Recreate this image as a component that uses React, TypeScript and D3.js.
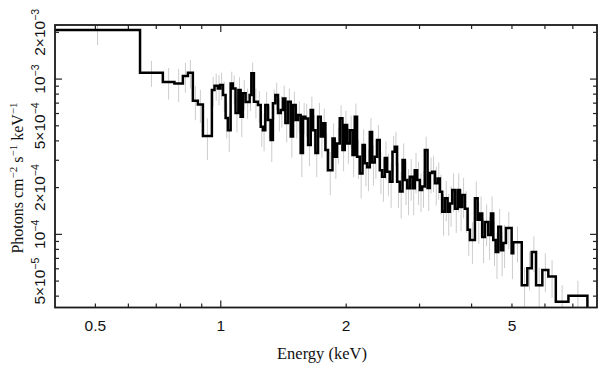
import React, { useEffect, useRef } from 'react';
import * as d3 from 'd3';

// bin edges in keV (one more than the number of bins)
const binEdges = [
  0.4, 0.64, 0.726, 0.774, 0.811, 0.834, 0.857, 0.881, 0.906,
  0.952, 0.966, 0.984, 0.997, 1.012, 1.027, 1.040, 1.056, 1.069, 1.085, 1.102, 1.116, 1.130,
  1.147, 1.173, 1.184, 1.201, 1.228, 1.247, 1.262, 1.279, 1.298, 1.317,
  1.334, 1.352, 1.372, 1.393, 1.410, 1.429, 1.450, 1.472, 1.491, 1.513,
  1.532, 1.555, 1.575, 1.596, 1.620, 1.644, 1.665, 1.687, 1.712, 1.738,
  1.760, 1.783, 1.809,
  1.854, 1.877, 1.901, 1.930, 1.959, 1.984, 2.010, 2.040, 2.071, 2.097,
  2.124, 2.156, 2.189, 2.217, 2.245, 2.279, 2.308, 2.342, 2.372, 2.408,
  2.439, 2.476, 2.507, 2.545, 2.583, 2.616, 2.650, 2.690, 2.731, 2.766,
  2.802, 2.843, 2.886, 2.923, 2.961,
  3.005, 3.043, 3.089, 3.136, 3.176, 3.217, 3.266, 3.315, 3.357, 3.400,
  3.451, 3.503, 3.548, 3.594, 3.648, 3.703, 3.750, 3.798, 3.855, 3.913,
  3.963, 4.074, 4.136, 4.189, 4.242, 4.306, 4.386, 4.452, 4.509, 4.570,
  4.636, 4.706, 4.765, 4.837, 4.991, 5.036, 5.278, 5.443, 5.578, 5.712,
  5.914, 6.113, 6.371, 6.831, 7.587,
];

// flux per bin, in units of 1e-3 photons cm^-2 s^-1 keV^-1
const fluxE3 = [
  2.07, 1.10, 0.957, 0.938, 1.045, 1.098, 0.725, 0.687, 0.430,
  0.849, 0.905, 0.871, 0.915, 0.789, 0.561, 0.469, 0.938, 0.871, 0.604, 0.849, 0.571, 0.81,
  0.711, 0.789, 1.09, 0.714, 0.68, 0.494, 0.469, 0.68, 0.545, 0.405,
  0.70, 0.789, 0.604, 0.632, 0.75, 0.521, 0.714, 0.427, 0.68, 0.545,
  0.586, 0.334, 0.571, 0.558, 0.376, 0.632, 0.469, 0.334, 0.571, 0.427,
  0.519, 0.349, 0.259,
  0.415, 0.316, 0.385, 0.559, 0.349, 0.506, 0.385, 0.469, 0.324, 0.571,
  0.316, 0.247, 0.376, 0.287, 0.271, 0.457, 0.29, 0.316, 0.405, 0.259,
  0.235, 0.31, 0.253, 0.218, 0.34, 0.366, 0.218, 0.189, 0.301, 0.224,
  0.198, 0.235, 0.198, 0.259, 0.224,
  0.193, 0.203, 0.349, 0.199, 0.248, 0.253, 0.213, 0.229, 0.188, 0.140,
  0.171, 0.140, 0.158, 0.193, 0.146, 0.193, 0.150, 0.179, 0.146, 0.107,
  0.092, 0.171, 0.124, 0.136, 0.096, 0.120, 0.099, 0.136, 0.092, 0.077,
  0.112, 0.079, 0.088, 0.110, 0.0757, 0.089, 0.0471, 0.0604, 0.077, 0.0471,
  0.0589, 0.0535, 0.0368, 0.0402,
];

// relative 1-sigma error per bin
const errFrac = [
  0.2, 0.19, 0.23, 0.24, 0.22, 0.21, 0.25, 0.24, 0.3,
  0.22, 0.2, 0.22, 0.2, 0.22, 0.26, 0.28, 0.19, 0.21, 0.25, 0.21, 0.26, 0.22,
  0.22, 0.21, 0.17, 0.22, 0.23, 0.26, 0.27, 0.22, 0.24, 0.28,
  0.22, 0.2, 0.24, 0.23, 0.21, 0.25, 0.22, 0.27, 0.22, 0.24,
  0.23, 0.3, 0.23, 0.24, 0.27, 0.22, 0.25, 0.3, 0.23, 0.27,
  0.24, 0.28, 0.31,
  0.25, 0.28, 0.26, 0.21, 0.27, 0.23, 0.26, 0.24, 0.28, 0.22,
  0.28, 0.31, 0.26, 0.29, 0.3, 0.23, 0.29, 0.28, 0.25, 0.3,
  0.31, 0.28, 0.3, 0.32, 0.26, 0.25, 0.32, 0.33, 0.28, 0.31,
  0.33, 0.3, 0.33, 0.29, 0.31,
  0.28, 0.27, 0.22, 0.29, 0.26, 0.26, 0.28, 0.27, 0.29, 0.3,
  0.29, 0.3, 0.29, 0.28, 0.3, 0.28, 0.3, 0.29, 0.3, 0.32,
  0.3, 0.28, 0.3, 0.29, 0.32, 0.3, 0.31, 0.29, 0.32, 0.33,
  0.3, 0.32, 0.31, 0.27, 0.32, 0.26, 0.3, 0.28, 0.26, 0.3,
  0.28, 0.27, 0.28, 0.25,
];

const xTickLabels = [0.5, 1, 2, 5];
const xMinorTicks = [0.5, 0.6, 0.7, 0.8, 0.9, 2, 3, 4, 5, 6, 7];
const xMajorTicks = [1];
const yTickMantissas = [2, 1, 5, 2, 1, 5];
const yTickExponents = [-3, -3, -4, -4, -4, -5];
const yMajorTicks = [1e-4, 1e-3];
const yMinorTicks = [4e-5, 5e-5, 6e-5, 7e-5, 8e-5, 9e-5,
  2e-4, 3e-4, 4e-4, 5e-4, 6e-4, 7e-4, 8e-4, 9e-4, 2e-3];

const W = 608;
const H = 370;
const frame = { left: 55, right: 597, top: 25, bottom: 307.5 };
const sans = '"Liberation Sans", Arial, Helvetica, sans-serif';
const serif = '"Liberation Serif", "Times New Roman", Times, serif';

export default function App() {
  const ref = useRef<SVGSVGElement>(null);

  useEffect(() => {
    const svg = d3.select(ref.current);
    svg.selectAll('*').remove();

    const x = d3.scaleLog().domain([0.4, 8]).range([frame.left, frame.right]);
    const y = d3.scaleLog().domain([3.38e-5, 2.23e-3]).range([frame.bottom, frame.top]);

    svg.append('clipPath').attr('id', 'plotClip')
      .append('rect')
      .attr('x', frame.left).attr('y', frame.top)
      .attr('width', frame.right - frame.left)
      .attr('height', frame.bottom - frame.top);

    const bins = fluxE3.map((f, i) => ({
      lo: binEdges[i],
      hi: binEdges[i + 1],
      v: f * 1e-3,
      err: (errFrac[i] ?? 0.25) * f * 1e-3,
    }));

    const plot = svg.append('g').attr('clip-path', 'url(#plotClip)');

    // error bars
    plot.selectAll('line.err')
      .data(bins)
      .enter()
      .append('line')
      .attr('class', 'err')
      .attr('x1', (d) => x(Math.sqrt(d.lo * d.hi)))
      .attr('x2', (d) => x(Math.sqrt(d.lo * d.hi)))
      .attr('y1', (d) => y(d.v + d.err))
      .attr('y2', (d) => y(Math.max(d.v - d.err, 1e-6)))
      .style('stroke', '#cccccc')
      .style('stroke-width', 1);

    // histogram steps
    const pts: [number, number][] = bins.map((d) => [d.lo, d.v]);
    pts.push([binEdges[binEdges.length - 1], y.domain()[0] * 0.5]);
    const line = d3.line<[number, number]>()
      .x((d) => x(d[0]))
      .y((d) => y(d[1]))
      .curve(d3.curveStepAfter);
    plot.append('path')
      .attr('d', line(pts))
      .style('fill', 'none')
      .style('stroke', '#000')
      .style('stroke-width', 2.5)
      .style('stroke-linejoin', 'miter');

    // frame
    svg.append('rect')
      .attr('x', frame.left).attr('y', frame.top)
      .attr('width', frame.right - frame.left)
      .attr('height', frame.bottom - frame.top)
      .style('fill', 'none')
      .style('stroke', '#1a1a1a')
      .style('stroke-width', 1.8);

    // ticks on all four sides, pointing inwards
    const ticks = svg.append('g').style('stroke', '#222').style('stroke-width', 1.2);
    const xTicks = [
      ...xMinorTicks.map((v) => ({ v, len: 4 })),
      ...xMajorTicks.map((v) => ({ v, len: 7 })),
    ];
    xTicks.forEach((t) => {
      const px = x(t.v);
      ticks.append('line').attr('x1', px).attr('x2', px)
        .attr('y1', frame.bottom).attr('y2', frame.bottom - t.len);
      ticks.append('line').attr('x1', px).attr('x2', px)
        .attr('y1', frame.top).attr('y2', frame.top + t.len);
    });
    const yTicks = [
      ...yMinorTicks.map((v) => ({ v, len: 4 })),
      ...yMajorTicks.map((v) => ({ v, len: 7 })),
    ];
    yTicks.forEach((t) => {
      const py = y(t.v);
      ticks.append('line').attr('y1', py).attr('y2', py)
        .attr('x1', frame.left).attr('x2', frame.left + t.len);
      ticks.append('line').attr('y1', py).attr('y2', py)
        .attr('x1', frame.right).attr('x2', frame.right - t.len);
    });

    // x tick labels
    svg.append('g')
      .selectAll('text')
      .data(xTickLabels)
      .enter()
      .append('text')
      .attr('x', (d) => x(d))
      .attr('y', 331)
      .attr('text-anchor', 'middle')
      .style('font-family', sans)
      .style('font-size', '15.5px')
      .style('fill', '#111')
      .text((d) => String(d));

    // y tick labels, rotated
    yTickMantissas.forEach((m, i) => {
      const e = yTickExponents[i];
      const val = m * Math.pow(10, e);
      const t = svg.append('text')
        .attr('transform', `translate(45,${y(val)}) rotate(-90)`)
        .attr('text-anchor', 'middle')
        .style('font-family', sans)
        .style('font-size', '15.5px')
        .style('fill', '#111');
      t.append('tspan').text(m === 1 ? '10' : `${m}\u00d710`);
      t.append('tspan').attr('dy', -6).style('font-size', '10.5px').text(`\u2212${-e}`);
    });

    // axis titles
    svg.append('text')
      .attr('x', (frame.left + frame.right) / 2 - 4)
      .attr('y', 359)
      .attr('text-anchor', 'middle')
      .style('font-family', serif)
      .style('font-size', '16.5px')
      .style('fill', '#111')
      .text('Energy (keV)');

    const yt = svg.append('text')
      .attr('transform', `translate(23,178) rotate(-90)`)
      .attr('text-anchor', 'middle')
      .style('font-family', serif)
      .style('font-size', '16px')
      .style('fill', '#111');
    const parts: [string, string][] = [['Photons cm', '\u22122'], [' s', '\u22121'], [' keV', '\u22121']];
    parts.forEach(([base, sup], i) => {
      yt.append('tspan').attr('dy', i === 0 ? 0 : 6).text(base);
      yt.append('tspan').attr('dy', -6).style('font-size', '11px').text(sup);
    });
  }, []);

  return (
    <svg
      ref={ref}
      width={W}
      height={H}
      style={{ position: 'absolute', left: 0, top: 0, background: '#fff' }}
    />
  );
}
